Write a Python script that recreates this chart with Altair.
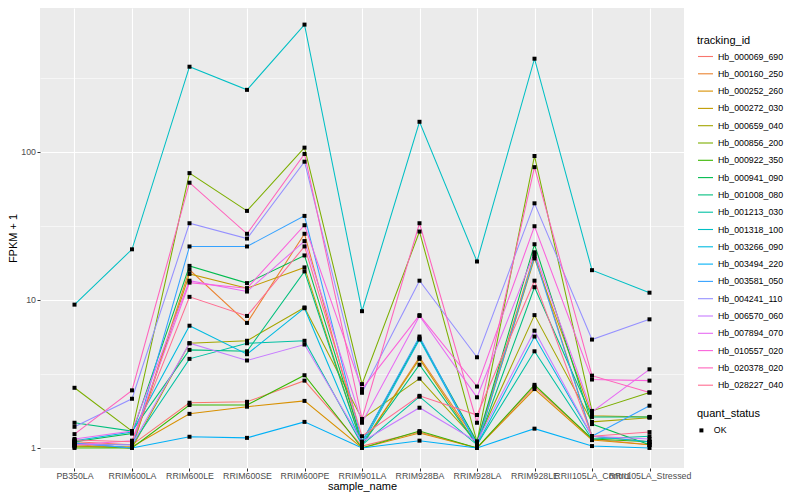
import altair as alt
import pandas as pd

samples = ["PB350LA", "RRIM600LA", "RRIM600LE", "RRIM600SE", "RRIM600PE", "RRIM901LA",
           "RRIM928BA", "RRIM928LA", "RRIM928LE", "RRII105LA_Control", "RRII105LA_Stressed"]

tracking_ids = ["Hb_000069_690", "Hb_000160_250", "Hb_000252_260", "Hb_000272_030",
                "Hb_000659_040", "Hb_000856_200", "Hb_000922_350", "Hb_000941_090",
                "Hb_001008_080", "Hb_001213_030", "Hb_001318_100", "Hb_003266_090",
                "Hb_003494_220", "Hb_003581_050", "Hb_004241_110", "Hb_006570_060",
                "Hb_007894_070", "Hb_010557_020", "Hb_020378_020", "Hb_028227_040"]

hb_000069_690 = [1.10, 1.05, 2.02, 2.05, 2.85, 1.03, 1.28, 1.00, 2.60, 1.15, 1.05]
hb_000160_250 = [1.05, 1.00, 16.0, 7.0, 28.0, 1.05, 4.1, 1.10, 20.5, 1.20, 1.10]
hb_000252_260 = [1.02, 1.02, 1.70, 1.90, 2.08, 1.00, 1.26, 1.00, 2.50, 1.13, 1.05]
hb_000272_030 = [1.08, 1.00, 15.0, 12.0, 16.6, 1.05, 4.0, 1.05, 19.1, 1.65, 1.62]
hb_000659_040 = [1.03, 1.00, 5.1, 5.3, 8.9, 1.57, 2.94, 1.10, 7.9, 1.50, 1.60]
hb_000856_200 = [2.55, 1.30, 72.0, 40.0, 107.0, 2.70, 29.0, 1.10, 94.0, 1.78, 2.37]
hb_000922_350 = [1.00, 1.00, 1.95, 1.95, 3.10, 1.00, 1.30, 1.00, 2.67, 1.15, 1.10]
hb_000941_090 = [1.10, 1.25, 17.0, 13.0, 20.0, 1.10, 5.5, 1.10, 23.8, 1.45, 1.05]
hb_001008_080 = [1.48, 1.30, 4.6, 4.5, 15.6, 1.05, 3.65, 1.05, 12.2, 1.62, 1.62]
hb_001213_030 = [1.06, 1.05, 4.0, 5.1, 5.3, 1.05, 2.22, 1.05, 4.5, 1.15, 1.20]
hb_001318_100 = [9.3, 22.0, 377.0, 263.0, 726.0, 8.4, 160.0, 18.2, 427.0, 15.9, 11.2]
hb_003266_090 = [1.12, 1.28, 6.7, 4.3, 8.8, 1.05, 5.4, 1.05, 5.66, 1.20, 1.10]
hb_003494_220 = [1.08, 1.00, 1.19, 1.17, 1.50, 1.00, 1.12, 1.00, 1.35, 1.03, 1.00]
hb_003581_050 = [1.08, 1.00, 23.0, 23.0, 37.0, 1.10, 5.66, 1.05, 19.7, 1.20, 1.93]
hb_004241_110 = [1.39, 2.15, 33.0, 26.0, 86.0, 2.36, 13.5, 4.1, 45.0, 5.4, 7.4]
hb_006570_060 = [1.05, 1.05, 5.1, 3.9, 5.0, 1.10, 1.87, 1.10, 6.2, 1.20, 1.15]
hb_007894_070 = [1.15, 1.30, 13.5, 11.4, 25.0, 1.48, 7.8, 2.2, 21.0, 1.75, 3.4]
hb_010557_020 = [1.05, 1.12, 13.1, 12.0, 32.0, 2.5, 7.9, 2.6, 31.5, 2.9, 2.85]
hb_020378_020 = [1.24, 2.45, 62.0, 28.0, 97.0, 1.57, 33.0, 1.48, 79.0, 3.08, 2.37]
hb_028227_040 = [1.13, 1.10, 10.5, 7.8, 23.0, 1.20, 2.25, 1.67, 13.5, 1.20, 1.28]

series = [hb_000069_690, hb_000160_250, hb_000252_260, hb_000272_030, hb_000659_040,
          hb_000856_200, hb_000922_350, hb_000941_090, hb_001008_080, hb_001213_030,
          hb_001318_100, hb_003266_090, hb_003494_220, hb_003581_050, hb_004241_110,
          hb_006570_060, hb_007894_070, hb_010557_020, hb_020378_020, hb_028227_040]

palette = ["#F8766D", "#EA8331", "#D89000", "#C09B00", "#A3A500", "#7CAE00", "#39B600",
           "#00BB4E", "#00BF7D", "#00C1A3", "#00BFC4", "#00BAE0", "#00B0F6", "#35A2FF",
           "#9590FF", "#C77CFF", "#E76BF3", "#FA62DB", "#FF62BC", "#FF6C91"]

y_ticks = [1, 3.1623, 10, 31.623, 100, 316.23]

rows = []
for order, (tid, vals) in enumerate(zip(tracking_ids, series)):
    for s, v in zip(samples, vals):
        rows.append({"tracking_id": tid, "order": order, "sample_name": s,
                     "fpkm1": v, "quant_status": "OK"})
df = pd.DataFrame(rows)

FONT = "Liberation Sans"
major = "indexof([1, 10, 100, 1000], datum.value) >= 0"

x = alt.X("sample_name:N", sort=samples,
          scale=alt.Scale(type="point", padding=0.6),
          axis=alt.Axis(title="sample_name", labelAngle=0, grid=True,
                        gridColor="white", gridWidth=1.1,
                        tickColor="#333333", tickSize=3, tickWidth=1,
                        labelFontSize=8.8, labelColor="#4D4D4D", labelPadding=0,
                        labelOverlap=False, labelFont=FONT,
                        titleFontSize=11, titleFont=FONT, titleFontWeight="normal",
                        titleColor="black", titlePadding=1, domain=False))
y = alt.Y("fpkm1:Q",
          scale=alt.Scale(type="log", domain=[0.732, 940], nice=False),
          axis=alt.Axis(title="FPKM + 1", values=y_ticks,
                        labelExpr="indexof([1, 10, 100, 1000], datum.value) >= 0 ? datum.label : ''",
                        grid=True, gridColor="white",
                        gridWidth={"condition": {"test": major, "value": 1.1}, "value": 0.55},
                        tickColor="#333333",
                        tickSize={"condition": {"test": major, "value": 3}, "value": 0},
                        tickWidth=1, labelFontSize=8.8, labelColor="#4D4D4D",
                        labelPadding=1.5, labelFont=FONT, format="~g",
                        titleFontSize=11, titleFont=FONT, titleFontWeight="normal",
                        titleColor="black", titlePadding=2, domain=False))

lines = alt.Chart(df).mark_line(strokeWidth=1.05, clip=True).encode(
    x=x, y=y,
    color=alt.Color("tracking_id:N", sort=tracking_ids,
                    scale=alt.Scale(domain=tracking_ids, range=palette),
                    legend=alt.Legend(title="tracking_id", orient="none",
                                      legendX=657, legendY=27,
                                      symbolType="stroke", symbolSize=225,
                                      symbolStrokeWidth=1.1, rowPadding=3.3,
                                      labelFontSize=8.8, labelFont=FONT, labelColor="black",
                                      labelOffset=4,
                                      titleFontSize=11, titleFont=FONT,
                                      titleFontWeight="normal", titleColor="black",
                                      titlePadding=2, padding=0)),
    order="order:Q",
)

points = alt.Chart(df).mark_point(filled=True, size=16, opacity=1, color="black").encode(
    x=x, y=y,
    shape=alt.Shape("quant_status:N",
                    scale=alt.Scale(domain=["OK"], range=["square"]),
                    legend=alt.Legend(title="quant_status", orient="none",
                                      legendX=657, legendY=400,
                                      symbolSize=16, symbolFillColor="black",
                                      symbolStrokeColor="black",
                                      labelFontSize=8.8, labelFont=FONT, labelColor="black",
                                      labelOffset=8,
                                      titleFontSize=11, titleFont=FONT,
                                      titleFontWeight="normal", titleColor="black",
                                      titlePadding=7, padding=0)),
)

chart = alt.layer(lines, points).properties(
    width=644, height=460,
    autosize=alt.AutoSizeParams(type="none"),
    padding={"left": 32, "top": 0, "right": 108, "bottom": 24},
    background="white",
).configure_view(fill="#EBEBEB", stroke=None)

chart.save("out.html", embed_options={"renderer": "svg", "actions": False})
